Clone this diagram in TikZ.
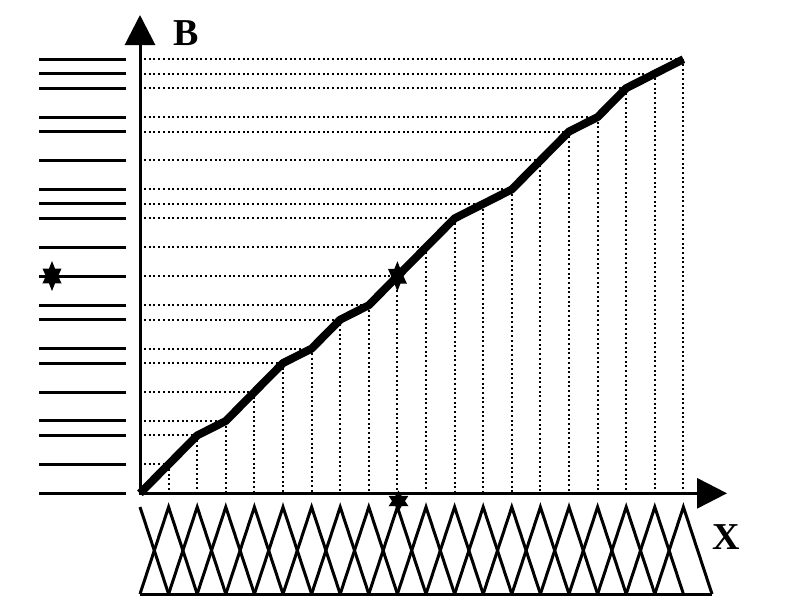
\documentclass[tikz,border=0pt]{standalone}
\usepackage{fontspec}
\setmainfont{Liberation Serif}
\usetikzlibrary{arrows.meta}
\tikzset{
  axisline/.style={line width=3pt, -{Triangle[length=30pt,width=30pt]}},
  dotline/.style={line width=2pt, dash pattern=on 2pt off 2.7pt},
  levelline/.style={line width=3pt},
  curveline/.style={line width=8pt, line join=round},
  zigline/.style={line width=3pt, line join=miter},
  lbl/.style={font=\bfseries\fontsize{38}{38}\selectfont, inner sep=0pt},
  hexstar/.pic={\fill[black] (90:1) -- (120:0.56) -- (150:1) -- (180:0.56) -- (210:1) -- (240:0.56)
     -- (270:1) -- (300:0.56) -- (330:1) -- (0:0.56) -- (30:1) -- (60:0.56) -- cycle;}
}
\begin{document}
\begin{tikzpicture}[x=1pt,y=-1pt]
\useasboundingbox (0,0) rectangle (794,600);
\def\halfs{0,2,4,5,7,9,10,12,13,15,17,19,20,21,23,25,26,28,29,30}
\coordinate (O) at (140,493.3);
\coordinate (ytip) at (140,15);
\coordinate (xtip) at (727,493.3);
\foreach \h [count=\i from 0] in \halfs {
  \coordinate (p\i) at ({140+28.6*\i},{493.3-14.47*\h});
  \coordinate (a\i) at (144,{493.3-14.47*\h});
  \coordinate (b\i) at ({140+28.6*\i},493.3);
  \coordinate (l\i) at (39,{493.3-14.47*\h});
  \coordinate (r\i) at (126,{493.3-14.47*\h});
}
\foreach \i in {0,...,20} {
  \coordinate (t\i) at ({140+28.6*\i},507);
  \coordinate (u\i) at ({140+28.6*\i},594);
}
% dotted guide lines
\foreach \i in {1,...,19} {
  \draw[dotline] (a\i) -- (p\i);
  \draw[dotline] (p\i) -- (b\i);
}
% left level lines
\foreach \i in {0,...,19} {
  \draw[levelline] (l\i) -- (r\i);
}
% curve
\draw[curveline] (p0) \foreach \i in {1,...,19} { -- (p\i) };
% axes
\draw[axisline] ([yshift=1.5pt]O) -- (ytip);
\draw[axisline] ([xshift=-1.5pt]O) -- (xtip);
% zigzag
\draw[zigline] (t0) -- (u1);
\foreach \i [evaluate=\i as \im using int(\i-1), evaluate=\i as \ip using int(\i+1)] in {1,...,19} {
  \draw[zigline] (u\im) -- (t\i) -- (u\ip);
}
\draw[zigline] (u0) -- (u20);
% labels
\node[lbl] (B) at (186,33) {B};
\node[lbl] (X) at (726,537) {X};
% stars
\path (52,276) pic[xscale=11, yscale=15] {hexstar};
\path (p9) pic[xscale=11, yscale=15] {hexstar};
\path (398.5,501) pic[xscale=11.5, yscale=10.5] {hexstar};
\end{tikzpicture}
\end{document}
